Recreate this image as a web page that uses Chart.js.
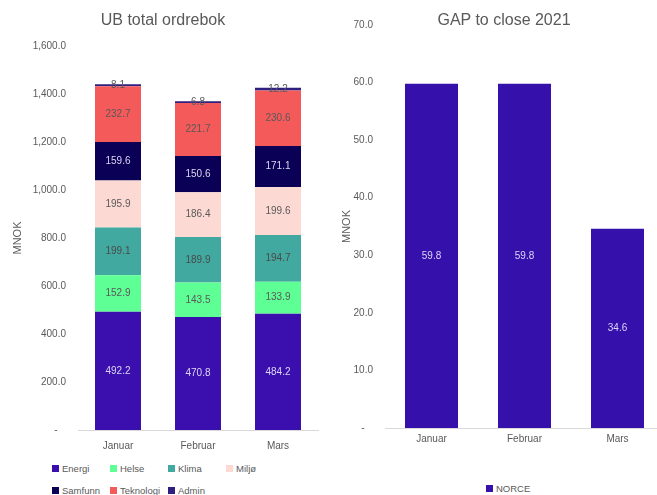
<!DOCTYPE html>
<html>
<head>
<meta charset="utf-8">
<script src="https://cdn.jsdelivr.net/npm/chart.js@4"></script>
<style>
  body { margin: 0; width: 657px; height: 495px; overflow: hidden; position: relative; background: #fff; font-family: "Liberation Sans", sans-serif; color: #595959; }
  .title { position: absolute; top: 11px; font-size: 16px; color: #595959; text-align: center; }
  #leftBox { position: absolute; left: 0; top: 0; width: 340px; height: 455px; }
  #rightBox { position: absolute; left: 340px; top: 0; width: 317px; height: 455px; overflow: hidden; }
  .legend { position: absolute; font-size: 9.5px; color: #595959; }
  .item { position: absolute; white-space: nowrap; }
  .item span.box { display: inline-block; width: 7px; height: 7px; margin-right: 3px; }
</style>
</head>
<body>
<div id="leftBox"><canvas id="chart1" width="340" height="455"></canvas></div>
<div id="rightBox"><canvas id="chart2" width="330" height="453"></canvas></div>
<div class="title" style="left:63px;width:200px;">UB total ordrebok</div>
<div class="title" style="left:404px;width:200px;">GAP to close 2021</div>
<div class="legend" id="legend1"></div>
<div class="legend" id="legend2"></div>
<script>
'use strict';

let months = ['Januar', 'Februar', 'Mars'];
let areaNames = ['Energi', 'Helse', 'Klima', 'Miljø', 'Samfunn', 'Teknologi', 'Admin'];
let energi = [492.2, 470.8, 484.2];
let helse = [152.9, 143.5, 133.9];
let klima = [199.1, 189.9, 194.7];
let miljo = [195.9, 186.4, 199.6];
let samfunn = [159.6, 150.6, 171.1];
let teknologi = [232.7, 221.7, 230.6];
let admin = [8.1, 6.8, 12.2];
let gapNorce = [59.8, 59.8, 34.6];

let areaColors = ['#3a0fae', '#5eff94', '#42a9a0', '#fcdad3', '#0a0055', '#f55a5a', '#2f1f80'];
let labelColors = ['#dcd6f5', '#595959', '#4a4a4a', '#595959', '#dcd6f5', '#595959', '#595959'];
let norceColor = '#3610ab';

function fmtTick(value) {
  if (value === 0) return '-   ';
  return value.toLocaleString('en-US', { minimumFractionDigits: 1, maximumFractionDigits: 1 });
}

// draws the value in the middle of each bar
let barLabels = {
  id: 'barLabels',
  afterDatasetsDraw(chart) {
    let ctx = chart.ctx;
    ctx.save();
    ctx.font = '10px "Liberation Sans", sans-serif';
    ctx.textAlign = 'center';
    ctx.textBaseline = 'middle';
    chart.data.datasets.forEach((ds, i) => {
      let meta = chart.getDatasetMeta(i);
      ctx.fillStyle = ds.labelColor;
      meta.data.forEach((bar, j) => {
        ctx.fillText(ds.data[j].toFixed(1), bar.x, (bar.y + bar.base) / 2);
      });
    });
    ctx.restore();
  }
};

let tickFont = { family: 'Liberation Sans', size: 10 };

let areaSeries = [energi, helse, klima, miljo, samfunn, teknologi, admin];
let datasets1 = [];
for (let i = 0; i < areaNames.length; i++) {
  datasets1.push({
    label: areaNames[i],
    data: areaSeries[i],
    backgroundColor: areaColors[i],
    labelColor: labelColors[i],
    categoryPercentage: 1,
    barPercentage: 0.575
  });
}

new Chart(document.getElementById('chart1'), {
  type: 'bar',
  data: { labels: months, datasets: datasets1 },
  options: {
    responsive: false,
    animation: false,
    layout: { padding: { top: 46, right: 22, bottom: 0, left: 0 } },
    plugins: { legend: { display: false }, tooltip: { enabled: false } },
    scales: {
      x: {
        stacked: true,
        grid: { display: false, drawTicks: false },
        border: { display: true, color: '#d9d9d9', width: 1 },
        ticks: { color: '#595959', font: tickFont, padding: 10 },
        afterFit(scale) { scale.height = 25; }
      },
      y: {
        stacked: true,
        min: 0, max: 1600,
        grid: { display: false, drawTicks: false },
        border: { display: false },
        ticks: { stepSize: 200, color: '#595959', font: tickFont, padding: 12, callback: fmtTick },
        title: { display: true, text: 'MNOK', color: '#595959', font: { family: 'Liberation Sans', size: 11 }, padding: { top: 11, bottom: 0 } },
        afterFit(scale) { scale.width = 78; }
      }
    }
  },
  plugins: [barLabels]
});

new Chart(document.getElementById('chart2'), {
  type: 'bar',
  data: {
    labels: months,
    datasets: [{
      label: 'NORCE',
      data: gapNorce,
      backgroundColor: norceColor,
      labelColor: '#dcd6f5',
      categoryPercentage: 1,
      barPercentage: 0.57
    }]
  },
  options: {
    responsive: false,
    animation: false,
    layout: { padding: { top: 25, right: 6, bottom: 0, left: 0 } },
    plugins: { legend: { display: false }, tooltip: { enabled: false } },
    scales: {
      x: {
        grid: { display: false, drawTicks: false },
        border: { display: true, color: '#d9d9d9', width: 1 },
        ticks: { color: '#595959', font: tickFont, padding: 5 },
        afterFit(scale) { scale.height = 25; }
      },
      y: {
        min: 0, max: 70,
        grid: { display: false, drawTicks: false },
        border: { display: false },
        ticks: { stepSize: 10, color: '#595959', font: tickFont, padding: 12, callback: fmtTick },
        title: { display: true, text: 'MNOK', color: '#595959', font: { family: 'Liberation Sans', size: 11 }, padding: { top: 0, bottom: 0 } },
        afterFit(scale) { scale.width = 45; }
      }
    }
  },
  plugins: [barLabels]
});

// legends in the layout Excel used
function buildLegend(elemId, names, colors, startX, startY, colWidth, perRow) {
  let legend = document.getElementById(elemId);
  for (let i = 0; i < names.length; i++) {
    let item = document.createElement('div');
    item.className = 'item';
    item.style.left = (startX + (i % perRow) * colWidth) + 'px';
    item.style.top = (startY + Math.floor(i / perRow) * 22) + 'px';
    item.innerHTML = '<span class="box" style="background:' + colors[i] + '"></span>' + names[i];
    legend.appendChild(item);
  }
}
buildLegend('legend1', areaNames, areaColors, 52, 463, 58, 4);
buildLegend('legend2', ['NORCE'], [norceColor], 486, 483, 60, 1);
</script>
</body>
</html>
